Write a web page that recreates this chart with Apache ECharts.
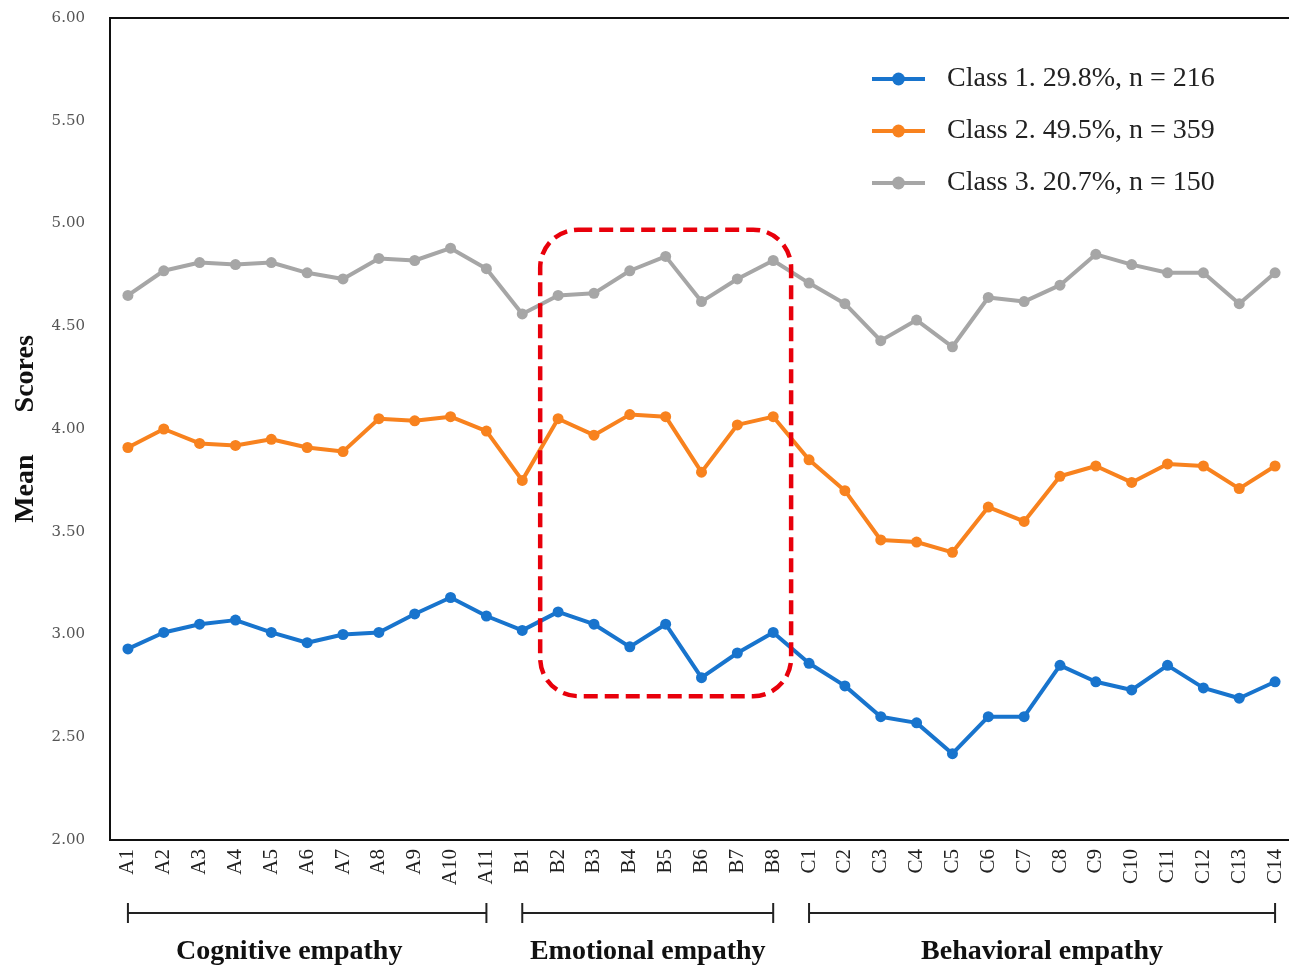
<!DOCTYPE html>
<html>
<head>
<meta charset="utf-8">
<script src="https://cdn.jsdelivr.net/npm/echarts@6/dist/echarts.min.js"></script>
<style>
  html, body { margin: 0; padding: 0; background: #fff; }
  #chart { width: 1289px; height: 968px; }
</style>
</head>
<body>
<div id="chart"></div>
<script>
// Item codes along the x axis
const items = [
  'A1','A2','A3','A4','A5','A6','A7','A8','A9','A10','A11',
  'B1','B2','B3','B4','B5','B6','B7','B8',
  'C1','C2','C3','C4','C5','C6','C7','C8','C9','C10','C11','C12','C13','C14'
];

// Latent class names
const class1Name = 'Class 1. 29.8%, n = 216';
const class2Name = 'Class 2. 49.5%, n = 359';
const class3Name = 'Class 3. 20.7%, n = 150';

// Mean scores per item for each class
const class1 = [2.93,3.01,3.05,3.07,3.01,2.96,3.00,3.01,3.10,3.18,3.09,
                3.02,3.11,3.05,2.94,3.05,2.79,2.91,3.01,
                2.86,2.75,2.60,2.57,2.42,2.60,2.60,2.85,2.77,2.73,2.85,2.74,2.69,2.77];
const class2 = [3.91,4.00,3.93,3.92,3.95,3.91,3.89,4.05,4.04,4.06,3.99,
                3.75,4.05,3.97,4.07,4.06,3.79,4.02,4.06,
                3.85,3.70,3.46,3.45,3.40,3.62,3.55,3.77,3.82,3.74,3.83,3.82,3.71,3.82];
const class3 = [4.65,4.77,4.81,4.80,4.81,4.76,4.73,4.83,4.82,4.88,4.78,
                4.56,4.65,4.66,4.77,4.84,4.62,4.73,4.82,
                4.71,4.61,4.43,4.53,4.40,4.64,4.62,4.70,4.85,4.80,4.76,4.76,4.61,4.76];

// Empathy dimensions: first and last item, and where the caption sits
const groupNames  = ['Cognitive empathy', 'Emotional empathy', 'Behavioral empathy'];
const groupStart  = ['A1', 'B1', 'C1'];
const groupEnd    = ['A11', 'B8', 'C14'];
const groupCenter = [4.5, 14.5, 25.5];

// Highlighted region (fractional category index range and score range)
const highlightX = [11.5, 18.5];
const highlightY = [2.70, 4.97];

// Y axis range
const yMin = 2, yMax = 6, yStep = 0.5;

const serif = '"Liberation Serif", "Times New Roman", serif';
const tickSerif = '"DejaVu Serif", "Liberation Serif", serif';
const colors = ['#1874CD', '#F8821E', '#A6A6A6'];

const chart = echarts.init(document.getElementById('chart'), null, { renderer: 'canvas' });

function lineSeries(name, data, color) {
  return {
    name: name,
    type: 'line',
    data: data,
    symbol: 'circle',
    symbolSize: 11,
    lineStyle: { width: 4, color: color },
    itemStyle: { color: color },
    z: 3
  };
}

chart.setOption({
  animation: false,
  backgroundColor: '#fff',
  color: colors,
  grid: {
    left: 110, top: 18, width: 1183, height: 822,
    outerBoundsMode: 'none',
    show: true, borderColor: '#111', borderWidth: 2,
    containLabel: false
  },
  legend: {
    orient: 'vertical',
    left: 865, top: 60,
    itemWidth: 53, itemHeight: 16, itemGap: 24,
    lineStyle: { width: 4 },
    textStyle: { fontFamily: serif, fontSize: 28, color: '#222', padding: [0, 0, 0, 17], lineHeight: 28 },
    data: [class1Name, class2Name, class3Name]
  },
  xAxis: {
    type: 'category',
    data: items,
    boundaryGap: true,
    axisLine: { lineStyle: { color: '#111', width: 2 } },
    axisTick: { show: false },
    axisLabel: {
      rotate: 90, margin: 9, interval: 0,
      fontFamily: serif, fontSize: 21, color: '#222'
    },
    splitLine: { show: false }
  },
  yAxis: {
    type: 'value',
    min: yMin, max: yMax, interval: yStep,
    axisLine: { show: true, lineStyle: { color: '#111', width: 2 } },
    axisTick: { show: false },
    splitLine: { show: false },
    axisLabel: {
      margin: 25, fontFamily: tickSerif, fontSize: 15, color: '#555',
      formatter: v => v.toFixed(2)
    },
    name: 'Mean      Scores',
    nameLocation: 'middle',
    nameGap: 70,
    nameTextStyle: { fontFamily: serif, fontSize: 28, fontWeight: 'bold', color: '#111' }
  },
  series: [
    lineSeries(class1Name, class1, colors[0]),
    lineSeries(class2Name, class2, colors[1]),
    lineSeries(class3Name, class3, colors[2])
  ]
});

// Pixel helpers through the axes; fractional category positions are interpolated
function yPx(val) {
  return chart.convertToPixel({ yAxisIndex: 0 }, val);
}
function xPx(cat) {
  const i0 = Math.floor(cat);
  const a = chart.convertToPixel({ xAxisIndex: 0 }, i0);
  if (cat === i0) return a;
  const b = chart.convertToPixel({ xAxisIndex: 0 }, i0 + 1);
  return a + (b - a) * (cat - i0);
}

const overlay = [];

const boxLeft = xPx(highlightX[0]), boxRight = xPx(highlightX[1]);
const boxTop = yPx(highlightY[1]), boxBottom = yPx(highlightY[0]);
overlay.push({
  type: 'rect',
  shape: { x: boxLeft, y: boxTop, width: boxRight - boxLeft, height: boxBottom - boxTop, r: 38 },
  style: { fill: 'none', stroke: '#E8000B', lineWidth: 4.5, lineDash: [14, 7] },
  z: 10
});

const bracketY = 913;
const captionY = 952;
for (let i = 0; i < groupNames.length; i++) {
  const x0 = xPx(items.indexOf(groupStart[i]));
  const x1 = xPx(items.indexOf(groupEnd[i]));
  const xc = xPx(groupCenter[i]);
  overlay.push({
    type: 'line',
    shape: { x1: x0, y1: bracketY, x2: x1, y2: bracketY },
    style: { stroke: '#222', lineWidth: 2 }
  });
  [x0, x1].forEach(x => overlay.push({
    type: 'line',
    shape: { x1: x, y1: bracketY - 10, x2: x, y2: bracketY + 10 },
    style: { stroke: '#222', lineWidth: 2 }
  }));
  overlay.push({
    type: 'text',
    x: xc, y: captionY,
    style: {
      text: groupNames[i], fill: '#111',
      font: 'bold 28px ' + serif,
      align: 'center', verticalAlign: 'middle'
    }
  });
}

chart.setOption({ graphic: overlay });
</script>
</body>
</html>
